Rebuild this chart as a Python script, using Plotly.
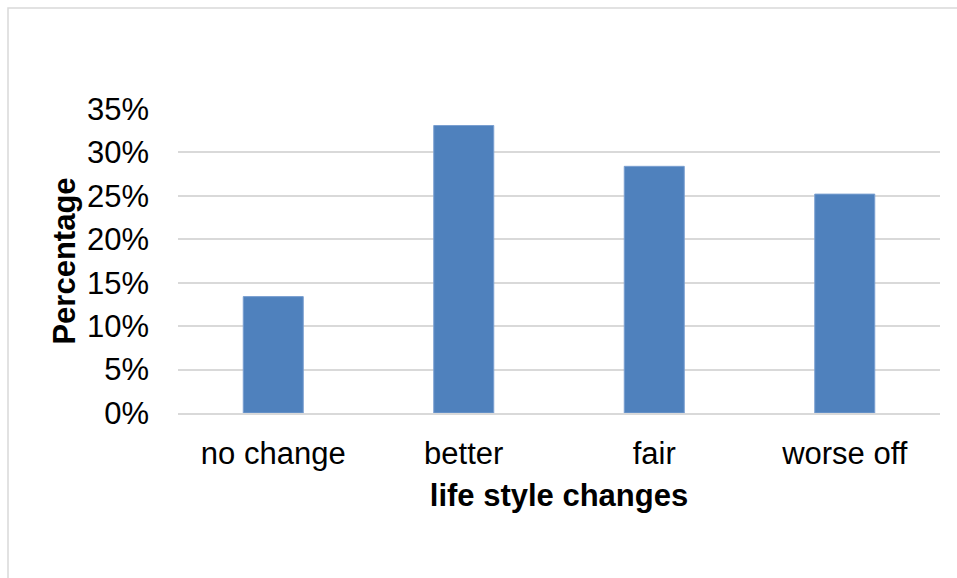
import plotly.graph_objects as go

categories = ["no change", "better", "fair", "worse off"]
values = [0.134, 0.331, 0.284, 0.252]
y_ticks = [0, 0.05, 0.10, 0.15, 0.20, 0.25, 0.30, 0.35]
y_tick_labels = ["0%", "5%", "10%", "15%", "20%", "25%", "30%", "35%"]

W, H = 957, 578
L, R, T, B = 178, 17, 109, 165
pw, ph = W - L - R, H - T - B

def px_x(x):
    return (x - L) / pw

def px_y(y):
    return 1 - (y - T) / ph

fig = go.Figure()
fig.add_trace(go.Bar(
    x=categories, y=values, width=0.315,
    marker=dict(color="#4F81BD", line=dict(color="#7A9FD0", width=1)),
))

font = "Liberation Sans, Arial, sans-serif"
fig.update_layout(
    width=W, height=H,
    margin=dict(l=L, r=R, t=T, b=B, autoexpand=False),
    paper_bgcolor="white", plot_bgcolor="white",
    showlegend=False,
    font=dict(family=font, size=31, color="#000000"),
    xaxis=dict(
        showgrid=False, showline=True, linecolor="#D9D9D9", linewidth=2,
        ticks="", ticklabelstandoff=12,
        tickfont=dict(size=31, family=font),
        title=dict(text="<b>life style changes</b>", font=dict(size=31, family=font), standoff=14),
    ),
    yaxis=dict(
        range=[0, 0.35], tickvals=y_ticks, ticktext=y_tick_labels,
        showgrid=True, gridcolor="#D9D9D9", gridwidth=2,
        zeroline=False, showline=False, ticks="", ticklabelstandoff=28,
        tickfont=dict(size=31, family=font),
        title=dict(text="<b>Percentage</b>", font=dict(size=31, family=font), standoff=2),
    ),
    shapes=[dict(
        type="rect", xref="paper", yref="paper",
        x0=px_x(8), x1=px_x(962), y0=px_y(582), y1=px_y(8),
        line=dict(color="#D9D9D9", width=1.5), fillcolor="rgba(0,0,0,0)", layer="below",
    )],
)

fig.write_html("out.html")
